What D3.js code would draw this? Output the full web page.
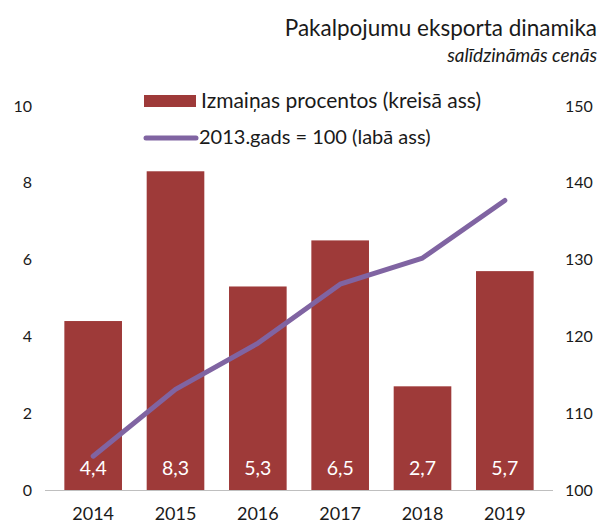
<!DOCTYPE html>
<html lang="lv">
<head>
<meta charset="utf-8">
<title>Pakalpojumu eksporta dinamika</title>
<script src="https://cdn.jsdelivr.net/npm/d3@7"></script>
<style>
  body { margin: 0; background: #fff; }
  text { font-family: Lato, "Open Sans", sans-serif; fill: #1a1a1a; }
</style>
</head>
<body>
<script>
// data
var years = ["2014", "2015", "2016", "2017", "2018", "2019"];
var changePct = [4.4, 8.3, 5.3, 6.5, 2.7, 5.7];
var indexVals = [104.4, 113.1, 119.1, 126.8, 130.2, 137.7];
var leftTicks = [0, 2, 4, 6, 8, 10];
var rightTicks = [100, 110, 120, 130, 140, 150];

var width = 603, height = 527;
var barColor = "#9e3a39", lineColor = "#8064a2";

var svg = d3.select("body").append("svg")
  .attr("width", width)
  .attr("height", height);

var x = d3.scaleBand().domain(years).range([52, 546]).paddingInner(0.3).paddingOuter(0.15);
var yL = d3.scaleLinear().domain([0, 10]).range([490, 106]);
var yR = d3.scaleLinear().domain([100, 150]).range([490, 106]);

// title
svg.append("text").attr("x", 597).attr("y", 36).attr("text-anchor", "end")
  .style("font-size", "22.5px").text("Pakalpojumu eksporta dinamika");
svg.append("text").attr("x", 597).attr("y", 62).attr("text-anchor", "end")
  .style("font-size", "19px").style("font-style", "italic").text("salīdzināmās cenās");

// bars
svg.selectAll("rect.bar").data(changePct).enter().append("rect")
  .attr("class", "bar")
  .attr("x", function(d, i) { return x(years[i]); })
  .attr("width", x.bandwidth())
  .attr("y", function(d) { return yL(d); })
  .attr("height", function(d) { return yL(0) - yL(d); })
  .attr("fill", barColor);

// baseline
svg.append("line").attr("x1", 45).attr("x2", 553)
  .attr("y1", yL(0) + 0.5).attr("y2", yL(0) + 0.5)
  .attr("stroke", "#bfbfbf").attr("stroke-width", 1);

// bar value labels
svg.selectAll("text.val").data(changePct).enter().append("text")
  .attr("class", "val")
  .attr("x", function(d, i) { return x(years[i]) + x.bandwidth() / 2; })
  .attr("y", 475)
  .attr("text-anchor", "middle")
  .style("font-size", "19.5px")
  .style("fill", "#fff")
  .text(function(d) { return String(d).replace(".", ","); });

// index line
var line = d3.line()
  .x(function(d, i) { return x(years[i]) + x.bandwidth() / 2; })
  .y(function(d) { return yR(d); });
svg.append("path").datum(indexVals)
  .attr("d", line)
  .attr("fill", "none")
  .attr("stroke", lineColor)
  .attr("stroke-width", 5)
  .attr("stroke-linecap", "round")
  .attr("stroke-linejoin", "round");

// left axis
var axL = svg.append("g").attr("transform", "translate(32,0)")
  .call(d3.axisLeft(yL).tickValues(leftTicks).tickSize(0).tickPadding(0));
axL.select(".domain").remove();
axL.selectAll("text").style("font-size", "16px").style("font-family", "Lato, sans-serif").attr("fill", "#1a1a1a");

// right axis
var axR = svg.append("g").attr("transform", "translate(565,0)")
  .call(d3.axisRight(yR).tickValues(rightTicks).tickSize(0).tickPadding(0));
axR.select(".domain").remove();
axR.selectAll("text").style("font-size", "16px").style("font-family", "Lato, sans-serif").attr("fill", "#1a1a1a");

// x axis labels
var axX = svg.append("g").attr("transform", "translate(0,507)")
  .call(d3.axisBottom(x).tickSize(0).tickPadding(0));
axX.select(".domain").remove();
axX.selectAll("text").style("font-size", "18px").style("font-family", "Lato, sans-serif").attr("fill", "#1a1a1a");

// legend
var lg = svg.append("g");
lg.append("rect").attr("x", 144).attr("y", 95).attr("width", 52).attr("height", 12).attr("fill", barColor);
lg.append("text").attr("x", 201).attr("y", 101).attr("dy", "0.35em")
  .style("font-size", "21px").text("Izmaiņas procentos (kreisā ass)");
lg.append("line").attr("x1", 146).attr("x2", 196).attr("y1", 138).attr("y2", 138)
  .attr("stroke", lineColor).attr("stroke-width", 5).attr("stroke-linecap", "round");
lg.append("text").attr("x", 199).attr("y", 137).attr("dy", "0.35em")
  .style("font-size", "20px").text("2013.gads = 100 (labā ass)");
</script>
</body>
</html>
